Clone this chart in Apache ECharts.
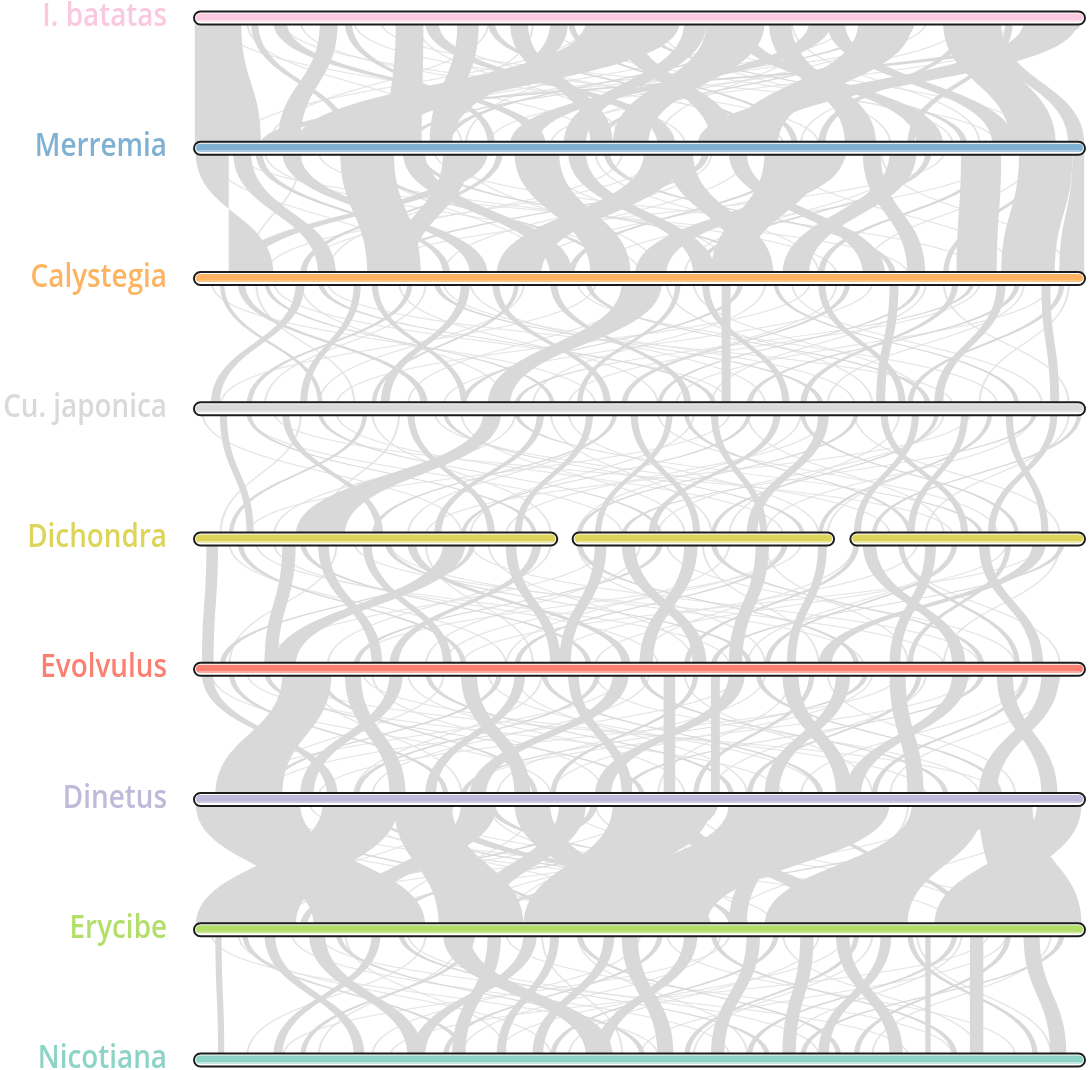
<!DOCTYPE html>
<html>
<head>
<meta charset="utf-8">
<script src="https://cdn.jsdelivr.net/npm/echarts@6/dist/echarts.min.js"></script>
<style>
html,body{margin:0;padding:0;background:#fff;}
#main{width:1091px;height:1070px;}
</style>
</head>
<body>
<div id="main"></div>
<script>
// genomes, top to bottom
var genomes=["I. batatas","Merremia","Calystegia","Cu. japonica","Dichondra","Evolvulus","Dinetus","Erycibe","Nicotiana"];
var genomeColors=["#fbc9df","#80b1d3","#fdb462","#d9d9d9","#dcd55a","#fb8072","#bebada","#b3de69","#8dd3c7"];

// chromosome extents on a 0-100 scale
var chrFull=[[0,100]];
var chrDichondra=[[0,40.9],[42.4,71.9],[73.5,100]];

// syntenic blocks between neighbouring genomes: [upperStart, upperEnd, lowerStart, lowerEnd]
var linksBatMer=[[0.2,5.4,0.2,7.6],[14.2,16.2,9.5,12],[22.7,25.8,21.8,25.6],[29.6,32,26.5,29],[44,54.5,11.5,22.5],
  [35.5,37.5,44.5,47],[55,57.5,41.5,44],[57.5,64,47,51],[47,49.5,58,61],[64.5,67,73,76.5],[69,71.5,35.5,38.5],
  [74.5,80.5,60,65.5],[71,73,89.5,92],[84,89.8,91.5,96.6],[88.5,90.5,98,99.8],[93,99,56.5,63],[96.5,99.5,7.5,9.5],
  [60,62,81,84],[40,42,27,29],[26,27.5,52,54],[9,10.5,38,39.5],[17,17.8,33,33.8],[33,33.8,63,63.8],[50,50.7,86,86.7],
  [62.5,63.3,28,28.8],[80,80.8,45,45.8],[86,86.8,70,70.8],[6.5,7.3,17,17.8],[42,42.7,67,67.7],[76,76.7,24,24.7],[91,91.8,80,80.8]];
var linksMerCal=[[0.3,4,9,4],[4.5,6.5,14,16],[16.5,22.5,19.5,25.5],[10,12,31,33],[23.5,26,40,42.5],[28,31,22,24.5],
  [36,41,44.5,49],[42,44,56,58.5],[50.5,55,34,39],[53,56,61.5,65],[64,70.5,58,62],[70,73,49.5,53],[60,62,75,77.5],
  [78,81,66,69],[86,90.5,85.5,90],[92.5,98.5,90.5,96.5],[98.5,99.8,97,99.8],[31,33,4,6],[75,77,80,82],
  [7,7.8,28,28.8],[19,19.7,46,46.7],[34,34.7,12,12.7],[46,46.7,78,78.7],[57,57.8,20,20.8],[67,67.7,42,42.7],
  [82,82.7,56,56.7],[89,89.7,70,70.7],[25,25.7,63,63.7],[95,95.6,84,84.6]];
var linksCalCuj=[[11.5,12.5,2,3],[18,18.8,12,12.8],[20,20.7,30,30.7],[30,31,21,22],[48,52.5,33,35.5],[33.5,34.3,46,46.8],
  [40,40.8,55,55.8],[54,54.6,43,43.6],[57,57.8,66,66.8],[59.2,60.2,59.2,60.2],[70,70.8,79,79.8],[78,79,76.5,77.5],
  [85,85.7,68,68.7],[90,91,83,84],[95,96,96,97],[5,5.8,25.5,26.3],[8,8.5,40,40.5],[14,14.6,58,58.6],[24,24.6,6,6.6],
  [27,27.6,70,70.6],[36,36.5,20,20.5],[44,44.6,82,82.6],[61,61.6,30,30.6],[65,65.5,92,92.5],[73,73.6,48,48.6],
  [81,81.5,52,52.5],[87,87.5,36,36.5],[92,92.6,62,62.6],[97,97.6,80,80.6],[3,3.5,14,14.5]];
var linksCujDic=[[32.5,34.5,11.5,17],[3,3.8,6,6.8],[10,10.8,20.5,21.3],[24,24.8,33,33.8],[38.5,39.3,27,27.8],[44,44.8,36,36.8],
  [49,49.8,56,56.8],[53,53.7,45,45.7],[58,58.8,63.5,64.3],[65,65.8,51,51.8],[70,71.2,62,63.2],[77,77.8,86,86.8],
  [80.5,81.3,74,74.8],[86,86.8,80,80.8],[91,91.8,95,95.8],[96,96.8,89,89.8],[6,6.5,38,38.5],[14,14.5,52,52.5],
  [19,19.5,4,4.5],[28,28.5,68,68.5],[36,36.5,88,88.5],[47,47.5,20,20.5],[55,55.5,80,80.5],[62,62.5,30,30.5],
  [68,68.5,92,92.5],[74,74.5,43,43.5],[83,83.5,58,58.5],[89,89.5,70,70.5],[94,94.5,48,48.5],[99,99.5,76,76.5]];
var linksDicEvo=[[1.5,2.8,1,2.3],[10,11.5,8,9.5],[14,15.2,20,21.2],[19,20,28,29],[28,30.5,9,11.5],[35,36.2,40,41.2],
  [24,25,48,49],[45,46.3,41,42.3],[48,49.5,56,57.5],[55,56.5,50,51.5],[63,64.5,60,61.5],[70,71,66.5,67.5],
  [75,76.5,85,86.5],[82,83.2,78,79.2],[88,89.2,94,95.2],[94,95.5,70,71.5],[38,39,22,23],[5,5.6,30,30.6],
  [12,12.6,44,44.6],[21.5,22.1,62,62.6],[31,31.6,3,3.6],[43,43.6,74,74.6],[52,52.6,18,18.6],[58,58.6,88,88.6],
  [66,66.6,36,36.6],[74,74.6,55,55.6],[79,79.6,92,92.6],[85,85.6,64,64.6],[91,91.6,80,80.6],[97,97.6,58,58.6]];
var linksEvoDin=[[10,15.5,2.5,10],[1,2.2,15,16.2],[17,18.8,22,23.8],[22,23.5,12,13.5],[30,31.8,36,37.8],[36,37.2,26,27.2],
  [42,43.2,48,49.2],[47,48.8,31,32.8],[52.7,54,52.7,54],[58,59,58,59],[60,61.8,45,46.8],[66,67.8,72,73.8],
  [72,73.6,64,65.6],[78,79.8,80,81.8],[85,86.8,73,74.8],[90,91.8,95,96.8],[95,97,88,90],[4,4.6,28,28.6],
  [8,8.6,50,50.6],[14,14.6,38,38.6],[26,26.6,60,60.6],[34,34.6,8,8.6],[39,39.6,70,70.6],[45,45.6,18,18.6],
  [50,50.6,84,84.6],[56,56.6,40,40.6],[63,63.6,90,90.6],[69,69.6,56,56.6],[75,75.6,30,30.6],[81,81.6,62,62.6],
  [88,88.6,48,48.6],[93,93.6,76,76.6]];
var linksDinEry=[[0.3,12,13.5,26],[14.5,23,0.3,11.5],[22.5,29,27.5,37],[30,34,16,19],[36,40,47,51],[41,44,30,33],
  [47,58,37,45],[60,78,41,57.5],[65,67,60,62],[80.5,88.5,64,80],[88,94,90,99.5],[94.5,99.5,83,90],[52,55,70,73],
  [26,28,56,58],[8,8.8,40,40.8],[19,19.8,60,60.8],[33,33.8,78,78.8],[44.5,45.3,12,12.8],[58,58.8,22,22.8],
  [70,70.8,86,86.8],[76,76.8,33,33.8],[90,90.8,52,52.8]];
var linksEryNic=[[2.5,3.2,2.8,3.5],[8,9.2,18,19.2],[13,14.8,24,25.8],[20,21,9,10],[28,31,44,47],[33,34.5,29,30.5],
  [37,38.5,24.5,26],[40,41,34,35],[46,47.2,38,39.2],[48,49.8,52,53.8],[55,56.5,45,46.5],[62,63.5,58,59.5],
  [68,69.5,66,67.5],[72,73.5,78,79.5],[77,78.2,70,71.2],[82,82.6,82,82.6],[87,88.5,87,88.5],[93,94.8,96,97.8],
  [5.5,6.1,30,30.6],[16,16.6,50,50.6],[23,23.6,64,64.6],[31,31.6,12,12.6],[43,43.6,72,72.6],[52,52.6,28,28.6],
  [58,58.6,85,85.6],[65,65.6,40,40.6],[74,74.6,55,55.6],[80,80.6,94,94.6],[85,85.6,62,62.6],[91,91.6,74,74.6],
  [97,97.6,68,68.6]];

// small links (single anchors)
var thinBatMer=[[6,6.15,30,30.15],[12,12.15,55,55.15],[18,18.15,70,70.15],[27,27.15,62,62.15],[33,33.15,8.5,8.65],
  [40,40.15,85,85.15],[48,48.15,30.5,30.65],[52,52.15,78,78.15],[61,61.15,20,20.15],[67,67.15,88,88.15],[78,78.15,42,42.15],
  [82,82.15,15,15.15],[91,91.15,68,68.15],[25,25.15,48,48.15],[38,38.15,24,24.15],[70,70.15,52,52.15],[3,3.15,45,45.15],
  [86,86.15,33,33.15],[10,10.15,66,66.15],[21,21.15,90,90.15],[44,44.15,5,5.15],[56,56.15,95,95.15],[73,73.15,18,18.15],
  [95,95.15,40,40.15]];
var thinMerCal=[[2,2.15,25,25.15],[8,8.15,50,50.15],[14,14.15,72,72.15],[20,20.15,40,40.15],[27,27.15,88,88.15],
  [34,34.15,15,15.15],[45,45.15,70,70.15],[48,48.15,12,12.15],[58,58.15,28,28.15],[66,66.15,92,92.15],[73,73.15,38,38.15],
  [80,80.15,55,55.15],[84,84.15,20,20.15],[94,94.15,75,75.15],[39,39.15,60,60.15],[12,12.15,6,6.15],[5,5.15,80,80.15],
  [30,30.15,52,52.15],[52,52.15,8,8.15],[62,62.15,35,35.15],[77,77.15,98,98.15],[90,90.15,45,45.15]];
var thinCalCuj=[[2,2.15,45,45.15],[7,7.15,18,18.15],[9,9.15,60,60.15],[15,15.15,85,85.15],[23,23.15,52,52.15],
  [26,26.15,8,8.15],[28,28.15,74,74.15],[37,37.15,14,14.15],[43,43.15,90,90.15],[50,50.15,24,24.15],[56,56.15,82,82.15],
  [64,64.15,38,38.15],[67,67.15,95,95.15],[72,72.15,48,48.15],[76,76.15,28,28.15],[82,82.15,58,58.15],[88,88.15,42,42.15],
  [93,93.15,71,71.15],[98,98.15,88,88.15],[45,45.15,3,3.15],[12,12.15,35,35.15],[31,31.15,64,64.15],[53,53.15,76,76.15],
  [69,69.15,16,16.15],[84,84.15,98,98.15],[96,96.15,54,54.15]];
var thinCujDic=[[1,1.15,30,30.15],[6,6.15,48,48.15],[12,12.15,3,3.15],[16,16.15,66,66.15],[20,20.15,40,40.15],
  [27,27.15,78,78.15],[30,30.15,55,55.15],[36,36.15,9,9.15],[42,42.15,70,70.15],[47,47.15,24,24.15],[52,52.15,90,90.15],
  [56,56.15,31,31.15],[62,62.15,84,84.15],[68,68.15,43,43.15],[74,74.15,97,97.15],[79,79.15,60,60.15],[84,84.15,52,52.15],
  [89,89.15,71,71.15],[94,94.15,64,64.15],[98,98.15,82,82.15],[9,9.15,85,85.15],[23,23.15,14,14.15],[40,40.15,58,58.15],
  [60,60.15,6,6.15],[71,71.15,35,35.15],[87,87.15,26,26.15]];
var thinDicEvo=[[4,4.15,35,35.15],[7,7.15,60,60.15],[16,16.15,4,4.15],[22,22.15,75,75.15],[26,26.15,38,38.15],
  [31,31.15,88,88.15],[40,40.15,15,15.15],[43,43.15,64,64.15],[50,50.15,26,26.15],[53,53.15,92,92.15],[60,60.15,35,35.15],
  [64,64.15,80,80.15],[68,68.15,18,18.15],[74,74.15,50,50.15],[79,79.15,97,97.15],[85,85.15,62,62.15],[91,91.15,45,45.15],
  [97,97.15,84,84.15],[9,9.15,52,52.15],[18,18.15,84,84.15],[33,33.15,56,56.15],[46,46.15,8,8.15],[57,57.15,70,70.15],
  [66,66.15,28,28.15],[81,81.15,40,40.15],[95,95.15,30,30.15]];
var thinEvoDin=[[2,2.15,40,40.15],[6,6.15,66,66.15],[13,13.15,30,30.15],[19,19.15,82,82.15],[24,24.15,55,55.15],
  [28,28.15,6,6.15],[33,33.15,70,70.15],[39,39.15,18,18.15],[45,45.15,88,88.15],[51,51.15,20,20.15],[55,55.15,76,76.15],
  [61,61.15,8,8.15],[67,67.15,52,52.15],[71,71.15,92,92.15],[76,76.15,40,40.15],[82,82.15,58,58.15],[87,87.15,30,30.15],
  [93,93.15,68,68.15],[97,97.15,78,78.15],[10,10.15,90,90.15],[20,20.15,46,46.15],[36,36.15,62,62.15],[48,48.15,4,4.15],
  [64,64.15,34,34.15],[79,79.15,14,14.15]];
var thinDinEry=[[3,3.15,40,40.15],[9,9.15,65,65.15],[18,18.15,50,50.15],[25,25.15,85,85.15],[33,33.15,62,62.15],
  [38,38.15,22,22.15],[45,45.15,75,75.15],[50,50.15,10,10.15],[56,56.15,88,88.15],[62,62.15,30,30.15],[70,70.15,52,52.15],
  [75,75.15,20,20.15],[84,84.15,44,44.15],[90,90.15,60,60.15],[96,96.15,72,72.15],[13,13.15,80,80.15],[29,29.15,4,4.15],
  [42,42.15,94,94.15],[53,53.15,35,35.15],[68,68.15,8,8.15],[80,80.15,68,68.15]];
var thinEryNic=[[5,5.15,40,40.15],[11,11.15,60,60.15],[17,17.15,35,35.15],[24,24.15,70,70.15],[30,30.15,14,14.15],
  [35,35.15,85,85.15],[43,43.15,62,62.15],[50,50.15,20,20.15],[53,53.15,92,92.15],[59,59.15,30,30.15],[66,66.15,88,88.15],
  [70,70.15,42,42.15],[76,76.15,56,56.15],[81,81.15,96,96.15],[86,86.15,66,66.15],[91,91.15,50,50.15],[96,96.15,76,76.15],
  [2,2.15,52,52.15],[14,14.15,80,80.15],[26,26.15,6,6.15],[39,39.15,48,48.15],[60,60.15,10,10.15],[73,73.15,34,34.15],
  [89,89.15,22,22.15]];

var pairLinks=[linksBatMer,linksMerCal,linksCalCuj,linksCujDic,linksDicEvo,linksEvoDin,linksDinEry,linksEryNic];
var pairThin=[thinBatMer,thinMerCal,thinCalCuj,thinCujDic,thinDicEvo,thinEvoDin,thinDinEry,thinEryNic];

var linkData=[];
pairThin.forEach(function(arr,p){
    arr.forEach(function(l){ linkData.push([p,l[0],l[1],l[2],l[3]]); });
});
pairLinks.forEach(function(arr,p){
    arr.forEach(function(l){ linkData.push([p,l[0],l[1],l[2],l[3]]); });
});

var chrData=[];
genomes.forEach(function(g,i){
    var segs=(g=="Dichondra")?chrDichondra:chrFull;
    segs.forEach(function(s){ chrData.push([i,s[0],s[1]]); });
});
var labelData=genomes.map(function(g,i){ return [0,i]; });

function bez(a,b,c,d,t){
    var u=1-t;
    return a*u*u*u+3*b*u*u*t+3*c*u*t*t+d*t*t*t;
}

function renderLink(params,api){
    var p=api.value(0);
    var yTop=api.coord([0,p])[1]+4;
    var yBot=api.coord([0,p+1])[1]-4;
    var ym=(yTop+yBot)/2;
    var t0=api.coord([api.value(1),p])[0],t1=api.coord([api.value(2),p])[0];
    var b0=api.coord([api.value(3),p])[0],b1=api.coord([api.value(4),p])[0];
    var pts=[[t0,yTop]];
    var N=32,i,t;
    for(i=0;i<=N;i++){
        t=i/N;
        pts.push([bez(t1,t1,b1,b1,t),bez(yTop,ym,ym,yBot,t)]);
    }
    for(i=0;i<=N;i++){
        t=1-i/N;
        pts.push([bez(t0,t0,b0,b0,t),bez(yTop,ym,ym,yBot,t)]);
    }
    var w=Math.abs(api.value(2)-api.value(1));
    var thin=w<0.25;
    return {
        type:'polygon',
        shape:{points:pts},
        style:thin?{fill:'#e3e3e3',stroke:'#e3e3e3',lineWidth:0.6}:{fill:'#d9d9d9'}
    };
}

function renderChr(params,api){
    var r=api.value(0);
    var y=api.coord([0,r])[1];
    var x0=api.coord([api.value(1),r])[0];
    var x1=api.coord([api.value(2),r])[0];
    var c=genomeColors[r];
    return {
        type:'group',
        children:[
            {type:'rect',shape:{x:x0+1,y:y-6.5,width:x1-x0-2,height:13,r:6.5},style:{fill:'#ffffff',stroke:'#1b1b1b',lineWidth:2}},
            {type:'rect',shape:{x:x0+3,y:y-4.5,width:x1-x0-6,height:8,r:4},style:{fill:c}},
            {type:'rect',shape:{x:x0+6,y:y+2,width:x1-x0-12,height:1},style:{fill:'#ffffff',opacity:0.45}}
        ]
    };
}

// genome names, slightly condensed semibold
function renderLabel(params,api){
    var r=api.value(1);
    var pt=api.coord([0,r]);
    return {
        type:'text',
        x:pt[0]-26,
        y:pt[1]-1,
        scaleX:0.87,
        style:{
            text:genomes[r],
            fill:genomeColors[r],
            font:'600 32px "Open Sans"',
            align:'right',
            verticalAlign:'middle'
        }
    };
}

var chart=echarts.init(document.getElementById('main'));
var option={
    animation:false,
    backgroundColor:'#ffffff',
    grid:{left:193,right:5,top:18,bottom:10},
    xAxis:{type:'value',min:0,max:100,show:false},
    yAxis:{
        type:'category',
        data:genomes,
        inverse:true,
        boundaryGap:false,
        show:false
    },
    series:[
        {
            type:'custom',
            renderItem:renderLink,
            data:linkData,
            encode:{x:[1,2,3,4],y:0},
            silent:true,
            z:1
        },
        {
            type:'custom',
            renderItem:renderChr,
            data:chrData,
            encode:{x:[1,2],y:0},
            silent:true,
            z:5
        },
        {
            type:'custom',
            renderItem:renderLabel,
            data:labelData,
            encode:{x:0,y:1},
            clip:false,
            silent:true,
            z:6
        }
    ]
};
chart.setOption(option);
</script>
</body>
</html>
